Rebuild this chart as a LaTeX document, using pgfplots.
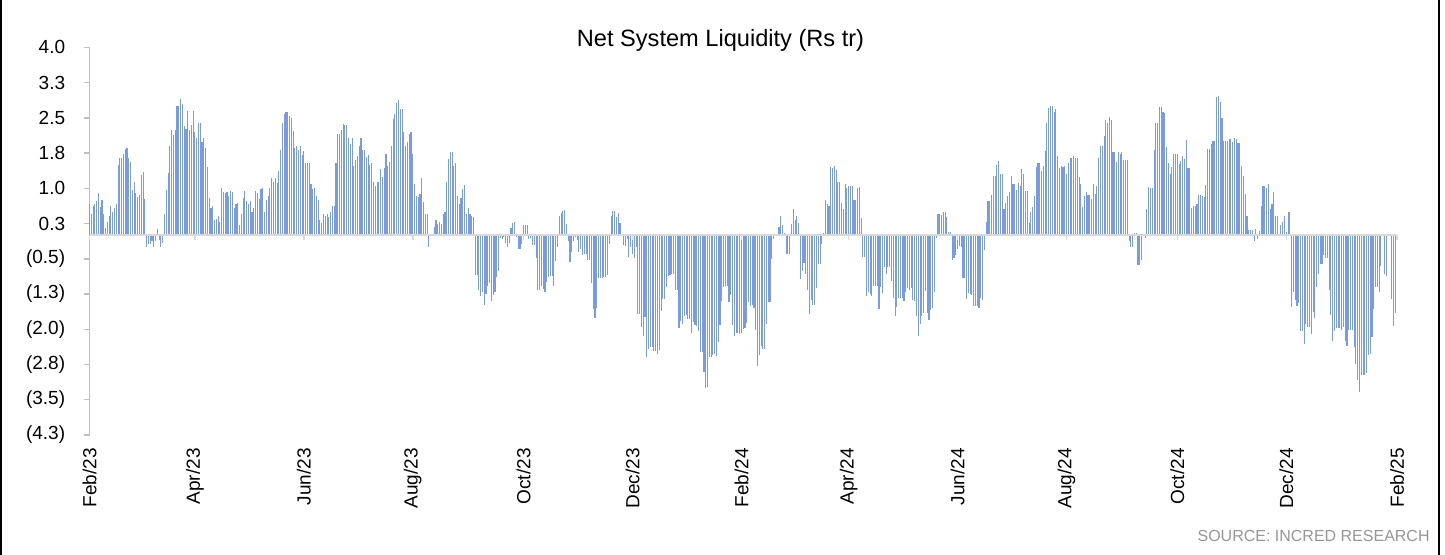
\documentclass[border=0pt]{standalone}
\usepackage{fontspec}
\setmainfont{Liberation Sans}
\usepackage{pgfplots}
\pgfplotsset{compat=1.18}
\definecolor{barblue}{RGB}{122,156,220}
\definecolor{axgrey}{RGB}{191,191,191}
\definecolor{zerogrey}{RGB}{217,217,217}
\definecolor{srcgrey}{RGB}{150,150,150}
\begin{document}
\begin{tikzpicture}
\path[use as bounding box] (0,0) rectangle (722.5pt,277.5pt);
\begin{axis}[
  at={(44.75pt,60pt)}, anchor=south west,
  scale only axis, width=653.75pt, height=193.85pt,
  xmin=0, xmax=732, ymin=-4.25, ymax=4,
  axis x line*=bottom, axis y line*=left,
  x axis line style={draw=none},
  y axis line style={draw=axgrey, line width=0.75pt},
  /pgf/number format/assume math mode=true,
  tick label style={font=\fontsize{9.5}{11}\selectfont},
  ytick={-4.25,-3.5,-2.75,-2,-1.25,-0.5,0.25,1,1.75,2.5,3.25,4},
  yticklabels={(4.3),(3.5),(2.8),(2.0),(1.3),(0.5),0.3,1.0,1.8,2.5,3.3,4.0},
  y tick style={draw=axgrey, line width=0.75pt},
  tick align=outside, major tick length=3pt,
  yticklabel style={anchor=east, inner sep=0pt, xshift=-9pt},
  xtick={0,59,120,181,243,304,365,425,486,547,609,670,732},
  xticklabels={Feb/23,Apr/23,Jun/23,Aug/23,Oct/23,Dec/23,Feb/24,Apr/24,Jun/24,Aug/24,Oct/24,Dec/24,Feb/25},
  xticklabel style={rotate=90, anchor=east, inner sep=0pt, xshift=-3.5pt},
  x tick style={draw=none},
  clip=false,
]
\addplot[ycomb, draw=barblue, line width=0.55pt, mark=none] coordinates {
(0,0.67)(1,0.46)(2,0.62)(3,0.66)(4,0.72)(5,0.89)(6,0.60)(7,0.76)(8,0.45)(9,0.16)
(10,0.28)(11,0.42)(12,0.62)(13,0.50)(14,0.59)(15,0.66)(16,1.50)(17,1.64)(18,1.64)(19,1.72)
(20,1.84)(21,1.85)(22,1.65)(23,1.55)(24,0.96)(25,1.13)(26,0.89)(27,0.82)(28,0.86)(29,1.28)
(30,1.34)(31,0.77)(32,-0.25)(33,-0.19)(34,-0.19)(35,-0.12)(36,-0.25)(37,-0.13)(38,0.14)(39,-0.10)
(40,-0.25)(41,-0.16)(42,0.45)(43,0.97)(44,1.33)(45,1.90)(46,2.24)(47,2.14)(48,2.25)(49,2.75)
(50,2.76)(51,2.90)(52,2.80)(53,2.33)(54,2.26)(55,2.65)(56,2.24)(57,2.35)(58,2.65)(59,2.19)
(60,2.07)(61,2.38)(62,2.38)(63,1.98)(64,2.08)(65,1.85)(66,1.45)(67,0.79)(68,0.57)(69,0.62)
(70,0.33)(71,0.35)(72,0.40)(73,0.28)(74,1.01)(75,0.92)(76,0.90)(77,0.92)(78,0.84)(79,0.94)
(80,0.92)(81,0.57)(82,0.67)(83,0.69)(84,0.21)(85,0.45)(86,0.79)(87,0.94)(88,0.72)(89,0.66)
(90,0.73)(91,0.49)(92,0.59)(93,0.94)(94,0.89)(95,0.77)(96,0.99)(97,1.00)(98,0.50)(99,0.75)
(100,0.83)(101,1.00)(102,1.21)(103,1.13)(104,1.21)(105,1.11)(106,1.36)(107,1.81)(108,2.39)(109,2.59)
(110,2.63)(111,2.63)(112,2.53)(113,2.49)(114,2.22)(115,1.85)(116,1.90)(117,1.81)(118,1.91)(119,1.71)
(120,1.80)(121,1.53)
(122,1.53)(123,1.53)(124,1.10)(125,0.99)(126,1.00)(127,0.83)(128,0.75)(129,0.32)(130,0.26)(131,0.45)
(132,0.40)(133,0.45)(134,0.39)(135,0.49)(136,0.62)(137,0.62)(138,1.53)(139,2.15)(140,2.16)(141,2.24)
(142,2.36)(143,2.35)(144,2.35)(145,2.08)(146,1.95)(147,2.08)(148,1.47)(149,1.60)(150,1.68)(151,1.91)
(152,2.08)(153,1.81)(154,1.81)(155,1.67)(156,1.70)(157,1.50)(158,1.53)(159,1.13)(160,1.04)(161,1.13)
(162,1.13)(163,1.40)(164,1.24)(165,1.43)(166,1.72)(167,1.47)(168,1.55)(169,1.91)(170,2.48)(171,2.59)
(172,2.82)(173,2.87)(174,2.69)(175,2.69)(176,2.19)(177,1.91)(178,1.98)(179,2.16)(180,2.19)(181,1.72)
(182,1.09)(183,0.83)(184,0.82)(185,0.87)(186,1.21)(187,0.70)(188,0.45)(189,0.45)(190,-0.26)(191,0)
(192,0)(193,0.18)(194,0.32)(195,0.25)(196,0.29)(197,0.25)(198,0.46)(199,0.50)(200,1.14)(201,1.63)
(202,1.77)(203,1.77)(204,1.47)(205,1.53)(206,0.84)(207,0.67)(208,0.79)(209,0.99)(210,1.06)(211,0.45)
(212,0.59)(213,0.46)(214,0.40)(215,0.39)(216,-0.84)(217,-0.84)(218,-1.17)(219,-1.30)(220,-1.20)(221,-1.48)
(222,-1.24)(223,-1.09)(224,-1.01)(225,-1.40)(226,-1.27)(227,-1.21)(228,-0.89)(229,-0.76)(230,-0.06)(231,-0.09)
(232,-0.04)(233,-0.16)(234,-0.25)(235,-0.16)(236,0.16)(237,0.26)(238,0.29)(239,-0.04)(240,-0.30)(241,-0.30)
(242,-0.19)(243,0.21)
(244,0.21)(245,0.21)(246,-0.08)(247,-0.05)(248,-0.21)(249,-0.21)(250,-0.49)(251,-1.16)(252,-1.16)(253,-1.07)
(254,-1.14)(255,-1.20)(256,-1.00)(257,-0.89)(258,-0.87)(259,-0.87)(260,-1.07)(261,-0.55)(262,-0.25)(263,0.40)
(264,0.48)(265,0.52)(266,0.53)(267,0.25)(268,-0.13)(269,-0.57)(270,-0.35)(271,-0.12)(272,-0.04)(273,-0.11)
(274,-0.36)(275,-0.30)(276,-0.43)(277,-0.39)(278,-0.39)(279,-0.52)(280,-0.53)(281,-1.01)(282,-1.57)(283,-1.75)
(284,-1.54)(285,-0.90)(286,-0.90)(287,-0.90)(288,-0.89)(289,-0.89)(290,-0.84)(291,-0.19)(292,0.42)(293,0.52)
(294,0.52)(295,0.39)(296,0.48)(297,0.26)(298,0)(299,-0.21)(300,-0.22)(301,-0.08)(302,-0.46)(303,-0.26)
(304,-0.39)(305,-0.48)(306,-0.25)(307,-1.67)(308,-1.67)(309,-1.95)(310,-2.15)(311,-1.74)(312,-2.58)(313,-2.41)
(314,-2.38)(315,-2.38)(316,-2.46)(317,-2.46)(318,-2.52)(319,-2.45)(320,-1.61)(321,-1.36)(322,-1.36)(323,-1.10)
(324,-0.86)(325,-0.84)(326,-0.82)(327,-0.82)(328,-1.16)(329,-1.16)(330,-1.97)(331,-1.82)(332,-1.89)(333,-1.71)
(334,-1.70)(335,-1.78)(336,-1.78)(337,-2.07)(338,-1.85)(339,-1.92)(340,-1.94)(341,-2.04)(342,-2.48)(343,-2.48)
(344,-2.90)(345,-3.24)(346,-3.23)(347,-2.58)(348,-2.58)(349,-2.55)(350,-2.52)(351,-2.56)(352,-2.28)(353,-1.92)
(354,-1.40)(355,-1.10)(356,-1.07)(357,-1.07)(358,-1.41)(359,-1.28)(360,-1.91)(361,-2.15)(362,-2.08)(363,-2.08)
(364,-2.10)(365,-2.08)(366,-1.99)(367,-1.98)(368,-1.87)(369,-1.41)(370,-1.50)(371,-1.48)(372,-1.55)(373,-2.01)
(374,-2.79)(375,-2.55)(376,-2.35)(377,-2.41)(378,-2.43)(379,-1.88)(380,-1.43)(381,-1.41)(382,-0.50)(383,-0.08)
(384,0)(385,0)(386,0.18)(387,0.40)(388,0.21)(389,0.04)(390,-0.39)(391,-0.39)(392,-0.39)(393,0.25)
(394,0.56)(395,0.33)(396,0.42)(397,0.26)(398,-0.93)(399,-0.76)(400,-0.60)(401,-0.83)(402,-1.16)(403,-1.68)
(404,-1.37)(405,-1.48)(406,-1.48)(407,-1.13)(408,-0.62)(409,-0.62)(410,-0.18)(411,0.05)(412,0.76)(413,0.66)
(414,0.63)(415,1.45)(416,1.44)(417,1.47)(418,1.38)(419,1.13)(420,1.13)(421,0.69)(422,0.55)(423,1.09)
(424,1.00)(425,1.04)(426,1.04)(427,1.04)(428,0.76)(429,0.75)(430,1.01)(431,1.03)(432,0.36)(433,-0.46)
(434,-0.46)(435,-1.30)(436,-1.20)(437,-1.24)(438,-1.30)(439,-1.09)(440,-1.09)(441,-1.09)(442,-1.57)(443,-1.11)
(444,-1.23)(445,-0.67)(446,-0.82)(447,-0.67)(448,-0.67)(449,-0.97)(450,-1.33)(451,-1.72)(452,-1.53)(453,-1.34)
(454,-1.34)(455,-1.34)(456,-1.40)(457,-1.21)(458,-1.13)(459,-1.17)(460,-1.13)(461,-1.38)(462,-1.40)(463,-1.72)
(464,-2.15)(465,-1.88)(466,-1.72)(467,-1.65)(468,-1.19)(469,-1.65)(470,-1.81)(471,-1.58)(472,-1.54)(473,-1.20)
(474,-0.05)(475,0.45)(476,0.45)(477,0.43)(478,0.49)(479,0.49)(480,0.39)(481,0.08)(482,0.08)(483,-0.53)
(484,-0.48)(485,-0.43)(486,-0.30)(487,-0.23)(488,-0.25)(489,-0.90)(490,-0.90)(491,-1.36)(492,-1.23)(493,-1.24)
(494,-1.28)(495,-1.50)(496,-1.50)(497,-1.50)(498,-1.55)(499,-1.33)(500,-1.37)(501,-0.32)(502,0.28)(503,0.72)
(504,0.72)(505,0.86)(506,1.27)(507,1.27)(508,1.50)(509,1.58)(510,1.30)(511,1.30)(512,0.55)(513,0.69)
(514,0.84)(515,0.93)(516,1.27)(517,1.10)(518,1.10)(519,0.96)(520,1.11)(521,1.04)(522,1.41)(523,1.30)
(524,0.94)(525,0.94)(526,0.26)(527,0.50)(528,0.60)(529,0.84)(530,1.45)(531,1.53)(532,1.53)(533,1.37)
(534,1.47)(535,1.80)(536,2.38)(537,2.70)(538,2.75)(539,2.75)(540,2.63)(541,2.68)(542,1.68)(543,1.43)
(544,1.48)(545,1.45)(546,1.47)(547,1.31)(548,1.53)(549,1.64)(550,1.64)(551,1.68)(552,1.65)(553,1.65)
(554,1.23)(555,1.10)(556,0.60)(557,0.84)(558,0.93)(559,0.86)(560,0.86)(561,0.77)(562,1.09)(563,0.87)
(564,1.04)(565,1.64)(566,1.91)(567,1.91)(568,2.12)(569,2.45)(570,2.38)(571,2.51)(572,2.46)(573,1.78)
(574,1.77)(575,1.55)(576,1.78)(577,1.72)(578,1.78)(579,1.61)(580,1.60)(581,1.60)(582,-0.12)(583,-0.26)
(584,-0.26)(585,0.04)(586,0.04)(587,-0.63)(588,-0.63)(589,-0.52)(590,-0.02)(591,-0.06)(592,0.55)(593,1.03)
(594,1.01)(595,1.01)(596,1.82)(597,2.38)(598,2.38)(599,2.73)(600,2.72)(601,2.62)(602,2.60)(603,1.87)
(604,1.54)
(605,1.31)(606,1.45)(607,1.72)(608,1.72)(609,1.72)(610,1.51)(611,1.58)(612,1.68)(613,1.63)(614,2.02)
(615,1.43)(616,1.43)(617,0.59)(618,0.63)(619,0.63)(620,0.66)(621,0.86)(622,0.86)(623,0.84)(624,0.82)
(625,1.07)(626,1.84)(627,1.84)(628,1.94)(629,2.01)(630,2.01)(631,2.95)(632,2.97)(633,2.83)(634,2.49)
(635,2.01)(636,2.01)(637,2.01)(638,2.04)(639,2.04)(640,1.98)(641,2.07)(642,2.04)(643,1.97)(644,1.97)
(645,1.47)(646,1.26)(647,0.87)(648,0.42)(649,0.12)(650,0.12)(651,0.11)(652,-0.13)(653,0.13)(654,-0.09)
(655,0.09)(656,0.62)(657,1.04)(658,1.04)(659,1.00)(660,1.09)(661,0.55)(662,0.67)(663,0.92)(664,0.40)
(665,0.40)(666,0)(667,0.22)(668,0.28)(669,0.42)(670,0.06)(671,0.50)(672,0.50)(673,-1.53)(674,-1.21)
(675,-1.38)(676,-1.51)(677,-1.45)(678,-2.04)(679,-2.04)(680,-2.32)(681,-1.89)(682,-1.95)(683,-1.95)(684,-2.11)
(685,-1.63)(686,-1.75)(687,-1.10)(688,-0.82)(689,-0.62)(690,-0.62)(691,-0.42)(692,-0.48)(693,-0.48)(694,-1.16)
(695,-1.70)(696,-2.26)(697,-2.04)(698,-1.97)(699,-1.97)(700,-1.98)(701,-2.01)(702,-1.95)(703,-2.24)(704,-2.35)
(705,-2.02)(706,-2.02)(707,-2.02)(708,-2.38)(709,-2.73)(710,-3.09)(711,-3.33)(712,-2.97)(713,-2.98)(714,-2.98)
(715,-2.93)(716,-2.55)(717,-2.52)(718,-2.16)(719,-1.57)(720,-1.11)(721,-1.11)(722,-1.20)(723,-0.66)(724,0)
(725,-0.82)(726,-0.86)(727,0)(728,0)(729,-1.36)(730,-1.94)(731,-1.65)
};
\draw[zerogrey, line width=1pt] (axis cs:0,0) -- (axis cs:732,0);
\pgfplotsinvokeforeach{0,59,120,181,243,304,365,425,486,547,609,670,732}{
  \draw[zerogrey, line width=0.75pt] (axis cs:#1,0) -- ([yshift=-2.5pt]axis cs:#1,0);
}
\end{axis}
\node[font=\fontsize{11.8}{14}\selectfont, anchor=base, inner sep=0pt] at (360.25pt,254.2pt) {Net System Liquidity (Rs tr)};
\node[font=\fontsize{8}{10}\selectfont, text=srcgrey, anchor=base east, inner sep=0pt] at (715pt,6.65pt) {SOURCE: INCRED RESEARCH};
\draw[black, line width=1pt] (0.5pt,0) -- (0.5pt,277.5pt);
\draw[black, line width=1.2pt] (719.5pt,0) -- (719.5pt,277.5pt);
\end{tikzpicture}
\end{document}
